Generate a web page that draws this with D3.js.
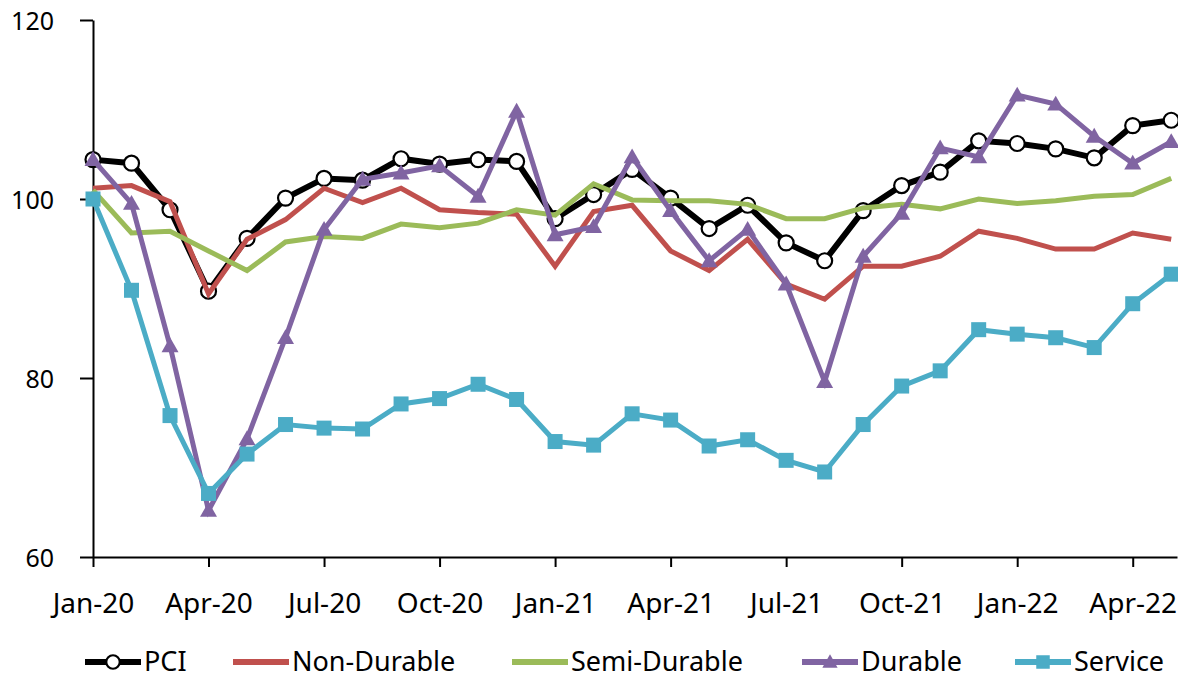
<!DOCTYPE html>
<html>
<head>
<meta charset="utf-8">
<script src="https://cdn.jsdelivr.net/npm/d3@7"></script>
<style>
  body { margin: 0; background: #fff; }
  text { font-family: "Noto Sans", sans-serif; fill: #000; }
</style>
</head>
<body>
<script>
// monthly index, Jan-20 .. May-22
const months = ["Jan-20","Feb-20","Mar-20","Apr-20","May-20","Jun-20","Jul-20","Aug-20","Sep-20","Oct-20","Nov-20","Dec-20",
  "Jan-21","Feb-21","Mar-21","Apr-21","May-21","Jun-21","Jul-21","Aug-21","Sep-21","Oct-21","Nov-21","Dec-21",
  "Jan-22","Feb-22","Mar-22","Apr-22","May-22"];

const pci = [104.4,104.0,98.8,89.7,95.6,100.1,102.3,102.1,104.5,103.9,104.4,104.2,
  97.8,100.5,103.3,100.1,96.7,99.3,95.1,93.1,98.7,101.5,103.0,106.5,106.2,105.6,104.6,108.2,108.8];
const nonDurable = [101.2,101.5,99.7,89.4,95.5,97.7,101.2,99.6,101.2,98.8,98.5,98.3,
  92.5,98.6,99.3,94.2,92.0,95.5,90.5,88.8,92.5,92.5,93.6,96.4,95.6,94.4,94.4,96.2,95.5];
const semiDurable = [101.0,96.2,96.4,94.2,92.0,95.2,95.8,95.6,97.2,96.8,97.3,98.8,
  98.2,101.7,99.9,99.8,99.8,99.4,97.8,97.8,99.0,99.4,98.9,100.0,99.5,99.8,100.3,100.5,102.3];
const durable = [104.4,99.5,83.6,65.2,73.2,84.5,96.6,102.2,102.9,103.7,100.3,109.8,
  96.0,96.9,104.7,98.7,93.1,96.6,90.5,79.6,93.6,98.4,105.7,104.7,111.6,110.6,107.0,104.0,106.4];
const service = [100.0,89.8,75.8,67.1,71.5,74.8,74.4,74.3,77.1,77.7,79.3,77.6,
  72.9,72.5,76.0,75.3,72.4,73.1,70.8,69.5,74.8,79.1,80.8,85.4,84.9,84.5,83.4,88.3,91.6];

const seriesNames = ["PCI","Non-Durable","Semi-Durable","Durable","Service"];
const seriesValues = [pci, nonDurable, semiDurable, durable, service];
const yTicks = [60, 80, 100, 120];

const colors = ["#000000","#C0504D","#9BBB59","#8064A2","#4BACC6"];
const markers = ["circle", null, null, "triangle", "square"];
const legendX = [85, 233, 512, 802, 1015];

const w = 1178, h = 679;
const svg = d3.select("body").append("svg")
  .attr("width", w).attr("height", h);

const x = d3.scaleLinear().domain([0, 28.15]).range([93, 1177]);
const y = d3.scaleLinear().domain([60, 120]).range([557, 20]);

// y axis
const yAxis = svg.append("g")
  .attr("transform", "translate(93,0)")
  .call(d3.axisLeft(y).tickValues(yTicks).tickSize(13).tickSizeOuter(0).tickPadding(26));
yAxis.select(".domain").attr("stroke", "#000").attr("stroke-width", 2);
yAxis.selectAll(".tick line").attr("stroke-width", 2);
yAxis.selectAll(".tick text").style("font-size", "25px").attr("dy", "0.36em");

// x axis, tick every quarter
const qIdx = d3.range(0, months.length, 3);
const xAxis = svg.append("g")
  .attr("transform", "translate(0,557)")
  .call(d3.axisBottom(x).tickValues(qIdx).tickFormat(i => months[i]).tickSize(10).tickSizeOuter(0).tickPadding(26));
xAxis.select(".domain").attr("stroke", "#000").attr("stroke-width", 2);
xAxis.selectAll(".tick line").attr("stroke-width", 2);
xAxis.selectAll(".tick text").style("font-size", "28px");

const line = d3.line().x((d, i) => x(i)).y(d => y(d));

function drawMarker(g, type, color, cx, cy, scale) {
  const s = scale || 1;
  if (type === "circle") {
    g.append("circle").attr("cx", cx).attr("cy", cy).attr("r", 7.5 * s)
      .attr("fill", "#fff").attr("stroke", color).attr("stroke-width", 2.2);
  } else if (type === "triangle") {
    const a = 8.5 * s;
    g.append("path")
      .attr("d", `M${cx},${cy - a}L${cx + a},${cy + a * 0.75}L${cx - a},${cy + a * 0.75}Z`)
      .attr("fill", color);
  } else if (type === "square") {
    const a = 7.5 * s;
    g.append("rect").attr("x", cx - a).attr("y", cy - a)
      .attr("width", 2 * a).attr("height", 2 * a).attr("fill", color);
  }
}

seriesValues.forEach((vals, k) => {
  const g = svg.append("g");
  g.append("path").datum(vals)
    .attr("d", line)
    .attr("fill", "none")
    .attr("stroke", colors[k])
    .attr("stroke-width", k === 0 ? 6 : 5)
    .attr("stroke-linejoin", "miter");
  if (markers[k]) {
    vals.forEach((v, i) => drawMarker(g, markers[k], colors[k], x(i), y(v)));
  }
});

// legend
const legend = svg.append("g").attr("transform", "translate(0,662)");
seriesNames.forEach((name, k) => {
  const lx = legendX[k];
  const g = legend.append("g");
  g.append("line").attr("x1", lx).attr("x2", lx + 56).attr("y1", 0).attr("y2", 0)
    .attr("stroke", colors[k]).attr("stroke-width", 6);
  if (markers[k]) drawMarker(g, markers[k], colors[k], lx + 28, 0, 0.9);
  g.append("text").attr("x", lx + 59).attr("y", 0).attr("dy", "0.35em")
    .style("font-size", "27px").text(name);
});
</script>
</body>
</html>
